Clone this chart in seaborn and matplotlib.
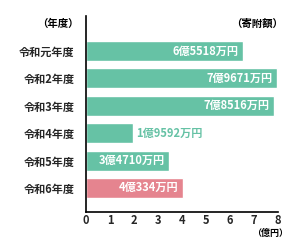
import matplotlib
matplotlib.use("Agg")
import matplotlib.pyplot as plt
import seaborn as sns
import pandas as pd

years = ["令和元年度", "令和2年度", "令和3年度", "令和4年度", "令和5年度", "令和6年度"]
values = [6.5518, 7.9671, 7.8516, 1.9592, 3.4710, 4.0334]
value_labels = ["6億5518万円", "7億9671万円", "7億8516万円", "1億9592万円", "3億4710万円", "4億334万円"]
xticks = [0, 1, 2, 3, 4, 5, 6, 7, 8]

TEAL = "#66C2A5"
PINK = "#E5848F"
colors = [TEAL, TEAL, TEAL, TEAL, TEAL, PINK]

sns.set_theme(style="white")
plt.rcParams['font.family'] = ['Noto Sans CJK JP', 'DejaVu Sans']

df = pd.DataFrame({"year": years, "value": values})

fig = plt.figure(figsize=(3.08, 2.5), dpi=100)
ax = fig.add_axes([86/308, 1-212/250, 192/308, 196/250])

sns.barplot(data=df, y="year", x="value", hue="year", palette=colors,
            orient="h", width=0.73, legend=False, ax=ax, saturation=1)

ax.set_xlim(0, 8)
ax.set_ylim(5.88, -1.28)
ax.set_xticks(xticks)
ax.set_xticklabels([str(t) for t in xticks], fontsize=8, fontweight="bold")
ax.set_xlabel("")
ax.set_ylabel("")
ax.tick_params(axis="x", direction="in", length=4.3, width=1, color="black", pad=1.5)
ax.tick_params(axis="y", length=0, pad=8)
ax.set_yticks(range(len(years)))
ax.set_yticklabels(years, fontsize=8, fontweight="bold")

for s in ["top", "right"]:
    ax.spines[s].set_visible(False)
for s in ["left", "bottom"]:
    ax.spines[s].set_color("black")
    ax.spines[s].set_linewidth(1.2)

for i, (v, lab) in enumerate(zip(values, value_labels)):
    if v < 3:
        ax.text(v + 0.12, i, lab, ha="left", va="center", color=TEAL,
                fontsize=8, fontweight="bold")
    else:
        ax.text(v - 0.2, i, lab, ha="right", va="center", color="white",
                fontsize=8, fontweight="bold")

ax.text(-0.3, -1.0, "（年度）", ha="right", va="center", fontsize=7.5,
        fontweight="bold", color="black")
ax.text(8.2, -1.0, "（寄附額）", ha="right", va="center", fontsize=7.5,
        fontweight="bold", color="black")
fig.text(270/308, 1-233/250, "（億円）", ha="center", va="center", fontsize=6.5,
         fontweight="bold", color="black")

fig.savefig("out.png", dpi=100, facecolor="white")
